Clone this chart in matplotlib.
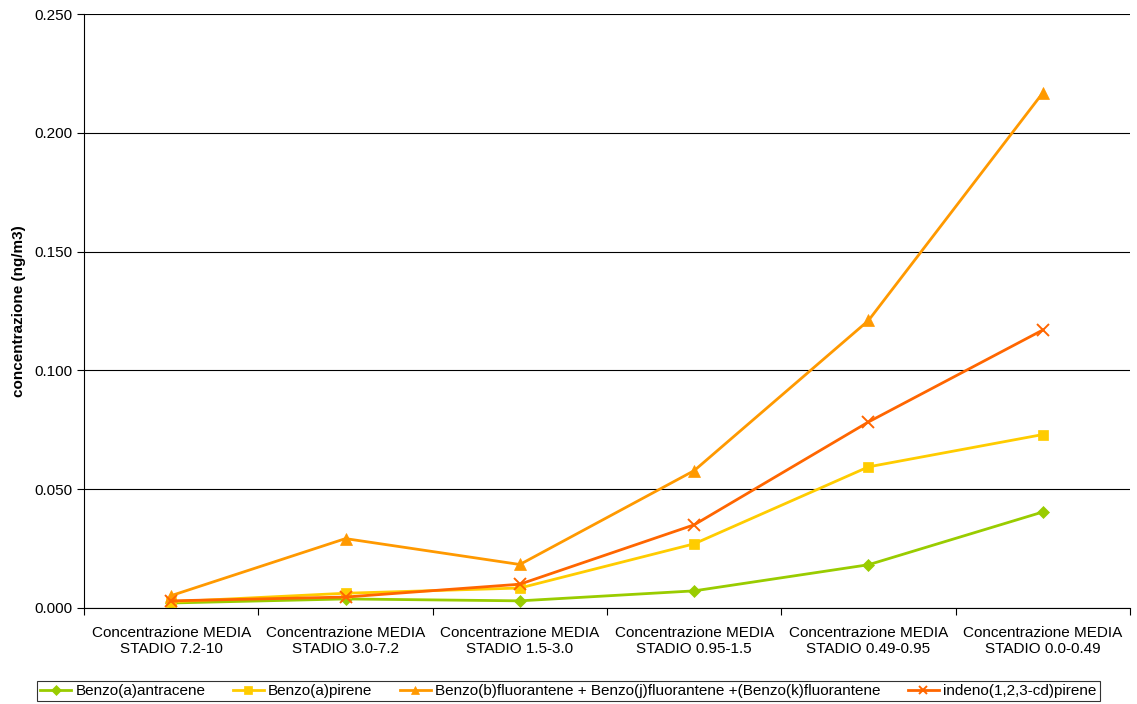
import matplotlib
matplotlib.use('Agg')
import matplotlib.pyplot as plt
import numpy as np

plt.rcParams['font.family'] = ['Liberation Sans', 'DejaVu Sans']

categories = ['Concentrazione MEDIA\nSTADIO 7.2-10',
              'Concentrazione MEDIA\nSTADIO 3.0-7.2',
              'Concentrazione MEDIA\nSTADIO 1.5-3.0',
              'Concentrazione MEDIA\nSTADIO 0.95-1.5',
              'Concentrazione MEDIA\nSTADIO 0.49-0.95',
              'Concentrazione MEDIA\nSTADIO 0.0-0.49']

benzo_a_antracene = [0.0021, 0.0038, 0.0030, 0.0072, 0.0182, 0.0404]
benzo_a_pirene = [0.0026, 0.0062, 0.0084, 0.0270, 0.0594, 0.0730]
benzo_bjk_fluorantene = [0.0052, 0.0292, 0.0183, 0.0578, 0.1210, 0.2168]
indeno_pirene = [0.0030, 0.0046, 0.0100, 0.0350, 0.0783, 0.1170]

series = [
    ('Benzo(a)antracene', benzo_a_antracene, '#99CC00', 'D', 6.5),
    ('Benzo(a)pirene', benzo_a_pirene, '#FFCC00', 's', 7.5),
    ('Benzo(b)fluorantene + Benzo(j)fluorantene +(Benzo(k)fluorantene',
     benzo_bjk_fluorantene, '#FF9900', '^', 8.5),
    ('indeno(1,2,3-cd)pirene', indeno_pirene, '#FF6600', 'x', 8),
]

fig = plt.figure(figsize=(11.37, 7.04), dpi=100)
ax = fig.add_axes([0.0739, 0.1364, 0.9199, 0.8437])

x = np.arange(len(categories)) + 0.5
for label, vals, color, marker, ms in series:
    ax.plot(x, vals, color=color, marker=marker, markersize=ms, lw=2.0,
            markeredgewidth=1.4 if marker == 'x' else 0.5, label=label)

yt = np.arange(0, 0.2501, 0.05)
ax.set_xlim(0, len(categories))
ax.set_ylim(0, 0.25)
ax.set_yticks(yt)
ax.set_yticklabels(['%.3f' % v for v in yt], fontsize=11)
ax.yaxis.grid(True, color='#000000', lw=0.8)
ax.set_axisbelow(True)

ax.set_xticks(np.arange(len(categories) + 1))
ax.set_xticklabels([])
ax.set_xticks(x, minor=True)
ax.set_xticklabels(categories, minor=True, fontsize=11)
ax.tick_params(axis='x', which='minor', length=0, pad=13)
ax.tick_params(axis='x', which='major', direction='out', length=5)
ax.tick_params(axis='y', direction='out', length=5, pad=3)

for s in ['top', 'right']:
    ax.spines[s].set_visible(False)
ax.spines['left'].set_color('#000000')
ax.spines['bottom'].set_color('#000000')

ax.set_ylabel('concentrazione (ng/m3)', fontsize=11, fontweight='bold', labelpad=6)

leg = fig.legend(loc='lower center', bbox_to_anchor=(0.5, 0.0), ncol=4,
                 fontsize=11, frameon=True, fancybox=False, edgecolor='#000000',
                 handlelength=2.0, handletextpad=0.3, columnspacing=1.8,
                 borderpad=0.2, borderaxespad=0.2, markerscale=0.75)
leg.get_frame().set_linewidth(0.8)

fig.savefig('out.png', dpi=100)
